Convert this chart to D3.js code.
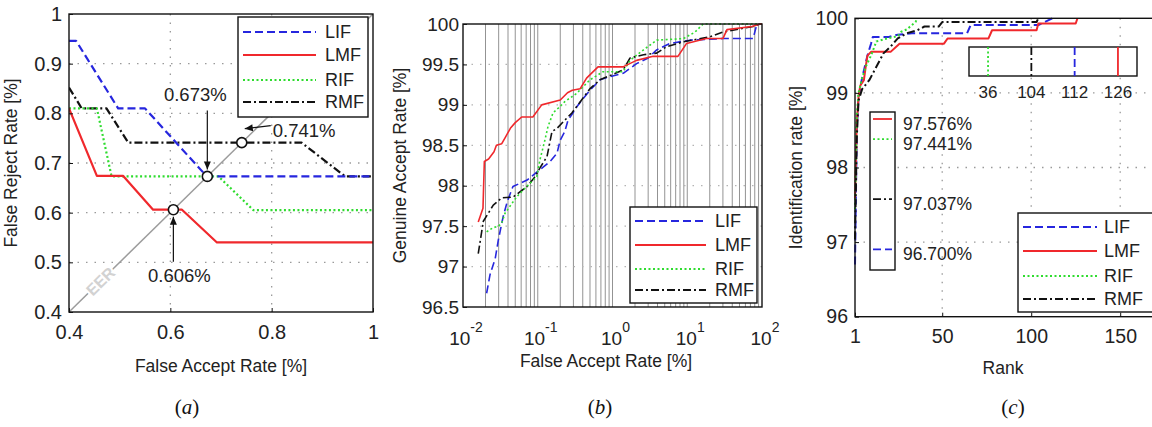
<!DOCTYPE html>
<html><head><meta charset="utf-8">
<script src="https://cdn.jsdelivr.net/npm/d3@7"></script>
<style>
body{margin:0;background:#fff}
svg{display:block;font-family:"Liberation Sans",Arial,Helvetica,sans-serif}
</style></head><body>
<svg id="fig" width="1152" height="427"></svg>
<script>
// ---------------- data ----------------
const seriesNames = ["LIF", "LMF", "RIF", "RMF"];

// (a) DET curves, [FAR %, FRR %]
const detLIF = [[0.4,0.946],[0.414,0.946],[0.497,0.81],[0.55,0.81],[0.672,0.673],[1,0.673]];
const detLMF = [[0.4,0.81],[0.455,0.674],[0.507,0.674],[0.566,0.606],[0.623,0.606],[0.692,0.54],[1,0.54]];
const detRIF = [[0.4,0.81],[0.455,0.81],[0.484,0.673],[0.695,0.673],[0.764,0.605],[1,0.605]];
const detRMF = [[0.4,0.852],[0.425,0.81],[0.474,0.81],[0.517,0.741],[0.859,0.741],[0.945,0.673],[1,0.673]];
const eerValues = [0.606, 0.673, 0.741];
const detXTicks = [0.4, 0.6, 0.8, 1];
const detYTicks = [0.4, 0.5, 0.6, 0.7, 0.8, 0.9, 1];

// (b) ROC curves, [FAR %, GAR %]
const rocLIF = [[0.0207,96.67],[0.023,96.9],[0.027,97.1],[0.0297,97.33],[0.0345,97.62],[0.039,97.8],[0.0466,97.99],[0.072,98.07],[0.098,98.17],[0.118,98.23],[0.146,98.3],[0.181,98.4],[0.199,98.56],[0.23,98.67],[0.254,98.81],[0.295,98.9],[0.335,98.98],[0.39,99.06],[0.5,99.18],[0.68,99.31],[0.93,99.35],[1.39,99.39],[2.1,99.51],[3.0,99.58],[3.9,99.68],[5.9,99.76],[10.9,99.8],[30,99.82],[76,99.82],[85,99.99],[100,100]];
const rocLMF = [[0.016,97.55],[0.0185,97.72],[0.0193,98.3],[0.022,98.33],[0.026,98.42],[0.028,98.5],[0.033,98.52],[0.037,98.6],[0.043,98.71],[0.05,98.78],[0.061,98.85],[0.086,98.85],[0.113,99.0],[0.2,99.06],[0.25,99.15],[0.29,99.18],[0.37,99.2],[0.45,99.33],[0.64,99.47],[1.38,99.47],[2.1,99.55],[3.5,99.6],[7.5,99.6],[9.8,99.76],[18,99.82],[30,99.82],[34,99.93],[73,99.97],[94,100],[100,100]];
const rocRIF = [[0.0207,97.43],[0.0252,97.48],[0.03,97.5],[0.033,97.54],[0.0365,97.66],[0.052,97.86],[0.071,97.99],[0.097,98.11],[0.107,98.32],[0.125,98.57],[0.137,98.73],[0.16,98.9],[0.199,98.98],[0.23,99.04],[0.33,99.14],[0.5,99.31],[0.75,99.41],[1.38,99.41],[1.72,99.55],[2.6,99.68],[3.9,99.8],[8.9,99.82],[12.7,99.9],[16.3,100],[100,100]];
const rocRMF = [[0.016,97.16],[0.0187,97.56],[0.0254,97.76],[0.033,97.85],[0.0466,97.86],[0.072,97.99],[0.092,98.11],[0.107,98.22],[0.133,98.36],[0.155,98.67],[0.181,98.71],[0.23,98.81],[0.286,98.9],[0.345,99.0],[0.5,99.2],[0.68,99.31],[1.38,99.43],[1.72,99.58],[2.6,99.62],[3.9,99.64],[5.3,99.72],[8.9,99.78],[20,99.84],[30,99.9],[76,99.97],[94,100],[100,100]];
const rocXTicks = [0.01, 0.1, 1, 10, 100];
const rocYTicks = [96.5, 97, 97.5, 98, 98.5, 99, 99.5, 100];

// (c) CMC curves, [rank, identification rate %]
const cmcLIF = [[1,96.7],[2,98.5],[3,98.95],[5,99.2],[8,99.5],[10,99.66],[11,99.75],[20,99.75],[25,99.78],[33,99.8],[64,99.8],[66,99.91],[104,99.91],[112,100]];
const cmcLMF = [[1,97.576],[2,98.6],[3,98.95],[4,99.1],[6,99.17],[7,99.35],[8,99.5],[10,99.55],[21,99.55],[26,99.66],[51,99.66],[53,99.73],[76,99.73],[78,99.84],[103,99.84],[104,99.93],[125,99.93],[126,100]];
const cmcRIF = [[1,97.441],[2,98.7],[3,99.0],[5,99.2],[7,99.35],[9,99.45],[10,99.5],[13,99.69],[19,99.73],[25,99.76],[27,99.82],[30,99.85],[35,99.95],[36,100]];
const cmcRMF = [[1,97.037],[2,98.4],[3,98.9],[5,99.05],[9,99.17],[13,99.35],[17,99.53],[21,99.62],[25,99.73],[30,99.8],[36,99.84],[40,99.89],[48,99.89],[50,99.95],[103,99.95],[104,100]];
const cmcXTicks = [1, 50, 100, 150];
const cmcYTicks = [96, 97, 98, 99, 100];
// rank at which each method first reaches 100 %
const fullRankNames = ["RIF", "RMF", "LIF", "LMF"];
const fullRanks = [36, 104, 112, 126];
// rank-1 identification rates
const rank1Names = ["LMF", "RIF", "RMF", "LIF"];
const rank1Rates = [97.576, 97.441, 97.037, 96.700];

// ---------------- styles ----------------
const style = {
  LIF: {color: "#2626de", dash: "8,4"},
  LMF: {color: "#f0282c", dash: null},
  RIF: {color: "#2fdc2f", dash: "2,2.5"},
  RMF: {color: "#111111", dash: "8,3,2,3"}
};
const FONT = '"Liberation Sans", Arial, Helvetica, sans-serif';
const svg = d3.select("#fig");
svg.append("rect").attr("width", 1152).attr("height", 427).attr("fill", "#fff");

function frame(g, x0, y0, x1, y1) {
  g.append("rect").attr("x", x0).attr("y", y0).attr("width", x1 - x0).attr("height", y1 - y0)
    .attr("fill", "none").attr("stroke", "#111").attr("stroke-width", 1.4);
}
function styled(sel, name, w) {
  sel.attr("fill", "none").attr("stroke", style[name].color).attr("stroke-width", w)
    .attr("stroke-dasharray", style[name].dash).attr("stroke-linejoin", "round");
  return sel;
}
function legend(g, box, rowsY, lx0, lx1, tx, fs, w) {
  g.append("rect").attr("x", box[0]).attr("y", box[1]).attr("width", box[2]).attr("height", box[3])
    .attr("fill", "#fff").attr("stroke", "#111").attr("stroke-width", 1.4);
  seriesNames.forEach((n, i) => {
    styled(g.append("line").attr("x1", lx0).attr("x2", lx1).attr("y1", rowsY[i]).attr("y2", rowsY[i]), n, w);
    g.append("text").attr("x", tx).attr("y", rowsY[i]).attr("dy", "0.36em")
      .attr("font-size", fs).attr("fill", "#222").text(n);
  });
}
function styleAxis(ax, fs) {
  ax.select(".domain").remove();
  ax.selectAll("text").attr("font-size", fs).attr("fill", "#222").attr("font-family", FONT);
  ax.selectAll(".tick line").attr("stroke", "#111");
}
function arrow(g, x1, y1, x2, y2) {
  g.append("line").attr("x1", x1).attr("y1", y1).attr("x2", x2).attr("y2", y2)
    .attr("stroke", "#111").attr("stroke-width", 1.2);
  const a = Math.atan2(y2 - y1, x2 - x1), L = 8, W = 3.5;
  const bx = x2 - L * Math.cos(a), by = y2 - L * Math.sin(a);
  g.append("path").attr("d", `M${x2},${y2}L${bx - W * Math.sin(a)},${by + W * Math.cos(a)}L${bx + W * Math.sin(a)},${by - W * Math.cos(a)}Z`)
    .attr("fill", "#111");
}

// ================= (a) DET =================
{
  const g = svg.append("g");
  const L = 69, T = 14, R = 373, B = 312;
  const x = d3.scaleLinear().domain([0.4, 1]).range([L, R]);
  const y = d3.scaleLinear().domain([0.4, 1]).range([B, T]);
  const grid = g.append("g").attr("stroke", "#9a9a9a").attr("stroke-width", 1.3).attr("stroke-dasharray", "1.5,7");
  detXTicks.slice(1, -1).forEach(v => grid.append("line").attr("x1", x(v)).attr("x2", x(v)).attr("y1", T).attr("y2", B));
  detYTicks.slice(1, -1).forEach(v => grid.append("line").attr("y1", y(v)).attr("y2", y(v)).attr("x1", L).attr("x2", R));

  g.append("clipPath").attr("id", "clipA").append("rect").attr("x", L).attr("y", T).attr("width", R - L).attr("height", B - T);
  const pl = g.append("g").attr("clip-path", "url(#clipA)");
  // equal error rate diagonal
  pl.append("line").attr("x1", x(0.4)).attr("y1", y(0.4)).attr("x2", x(1)).attr("y2", y(1))
    .attr("stroke", "#9c9c9c").attr("stroke-width", 1.5);
  const ang = Math.atan2(y(1) - y(0.4), x(1) - x(0.4)) * 180 / Math.PI;
  pl.append("text").attr("transform", `translate(${x(0.462)},${y(0.462)}) rotate(${ang})`)
    .attr("text-anchor", "middle").attr("dy", "0.36em").attr("font-size", 16).attr("font-weight", "bold")
    .attr("fill", "#d2d2d2").attr("stroke", "#fff").attr("stroke-width", 4).attr("paint-order", "stroke").text("EER");

  const line = d3.line().x(d => x(d[0])).y(d => y(d[1]));
  const det = {LIF: detLIF, LMF: detLMF, RIF: detRIF, RMF: detRMF};
  ["RMF", "RIF", "LMF", "LIF"].forEach(n => styled(pl.append("path").attr("d", line(det[n])), n, 2.2));

  frame(g, L, T, R, B);
  const ax = g.append("g").attr("transform", `translate(0,${B})`)
    .call(d3.axisBottom(x).tickValues(detXTicks).tickFormat(d3.format("~g")).tickSize(-4).tickPadding(13));
  styleAxis(ax, 20);
  const ay = g.append("g").attr("transform", `translate(${L},0)`)
    .call(d3.axisLeft(y).tickValues(detYTicks).tickFormat(d3.format("~g")).tickSize(-4).tickPadding(7));
  styleAxis(ay, 20);

  legend(g, [238, 17, 130, 100], [32, 55, 80, 102], 243, 316, 325, 18, 2.2);

  // EER markers and their call-outs
  const fmt = v => d3.format(".3f")(v) + "%";
  const ann = g.append("g").attr("font-size", 18.5).attr("fill", "#222");
  const [e1, e2, e3] = eerValues;
  // 0.606
  ann.append("text").attr("x", x(e1) + 6).attr("y", y(e1) + 72).attr("text-anchor", "middle").text(fmt(e1));
  arrow(ann, x(e1), y(e1) + 52, x(e1), y(e1) + 7);
  // 0.673
  ann.append("text").attr("x", x(e2) - 12).attr("y", y(e2) - 75).attr("text-anchor", "middle").text(fmt(e2));
  arrow(ann, x(e2), y(e2) - 66, x(e2), y(e2) - 7);
  // 0.741
  ann.append("text").attr("x", x(e3) + 31).attr("y", y(e3) - 6).text(fmt(e3));
  arrow(ann, x(e3) + 29, y(e3) - 17, x(e3) + 3, y(e3) - 14);
  eerValues.forEach(v => g.append("circle").attr("cx", x(v)).attr("cy", y(v)).attr("r", 5)
    .attr("fill", "#fff").attr("stroke", "#111").attr("stroke-width", 1.6));

  g.append("text").attr("x", (L + R) / 2).attr("y", 372).attr("text-anchor", "middle")
    .attr("font-size", 17.5).attr("fill", "#222").text("False Accept Rate [%]");
  g.append("text").attr("transform", `translate(17,${(T + B) / 2}) rotate(-90)`).attr("text-anchor", "middle")
    .attr("font-size", 17.5).attr("fill", "#222").text("False Reject Rate [%]");
}

// ================= (b) ROC =================
{
  const g = svg.append("g");
  const L = 463, T = 24, R = 762, B = 307;
  const x = d3.scaleLog().domain([0.01, 100]).range([L, R]);
  const y = d3.scaleLinear().domain([96.5, 100]).range([B, T]);
  const minor = [];
  for (let k = -2; k < 2; k++) for (let m = 1; m <= 9; m++) minor.push(m * Math.pow(10, k));
  const gv = g.append("g").attr("stroke", "#939393").attr("stroke-width", 1);
  minor.slice(1).forEach(v => gv.append("line").attr("x1", x(v)).attr("x2", x(v)).attr("y1", T).attr("y2", B));
  const gh = g.append("g").attr("stroke", "#b4b4b4").attr("stroke-width", 1.3).attr("stroke-dasharray", "1.5,7");
  rocYTicks.slice(1, -1).forEach(v => gh.append("line").attr("y1", y(v)).attr("y2", y(v)).attr("x1", L).attr("x2", R));

  g.append("clipPath").attr("id", "clipB").append("rect").attr("x", L).attr("y", T - 2).attr("width", R - L).attr("height", B - T + 2);
  const pl = g.append("g").attr("clip-path", "url(#clipB)");
  const line = d3.line().x(d => x(d[0])).y(d => y(d[1]));
  const roc = {LIF: rocLIF, LMF: rocLMF, RIF: rocRIF, RMF: rocRMF};
  ["LIF", "RMF", "RIF", "LMF"].forEach(n => styled(pl.append("path").attr("d", line(roc[n])), n, 1.6));

  frame(g, L, T, R, B);
  const ay = g.append("g").attr("transform", `translate(${L},0)`)
    .call(d3.axisLeft(y).tickValues(rocYTicks).tickFormat(d3.format("~g")).tickSize(-4).tickPadding(4));
  styleAxis(ay, 19);
  // decade labels 10^k
  const ax = g.append("g").attr("fill", "#222");
  rocXTicks.forEach(v => {
    const t = ax.append("text").attr("x", x(v) + 3).attr("y", 345).attr("text-anchor", "middle").attr("font-size", 19);
    t.append("tspan").text("10");
    t.append("tspan").attr("dy", -13).attr("font-size", 14).text(String(Math.round(Math.log10(v))));
  });

  legend(g, [630, 207, 127, 96], [221, 245, 269, 290], 635, 706, 715, 18, 1.8);

  g.append("text").attr("x", 606).attr("y", 367).attr("text-anchor", "middle")
    .attr("font-size", 17.5).attr("fill", "#222").text("False Accept Rate [%]");
  g.append("text").attr("transform", `translate(406,${(T + B) / 2}) rotate(-90)`).attr("text-anchor", "middle")
    .attr("font-size", 17.5).attr("fill", "#222").text("Genuine Accept Rate [%]");
}

// ================= (c) CMC =================
{
  const g = svg.append("g");
  const L = 855, T = 18.3, R = 1155.8, B = 316.7;
  const x = d3.scaleLinear().domain([1, 170]).range([L, R]);
  const y = d3.scaleLinear().domain([96, 100]).range([B, T]);
  const grid = g.append("g").attr("stroke", "#9a9a9a").attr("stroke-width", 1.3).attr("stroke-dasharray", "1.5,7");
  cmcXTicks.slice(1).forEach(v => grid.append("line").attr("x1", x(v)).attr("x2", x(v)).attr("y1", T).attr("y2", B));
  cmcYTicks.slice(1, -1).forEach(v => grid.append("line").attr("y1", y(v)).attr("y2", y(v)).attr("x1", L).attr("x2", R));

  const line = d3.line().x(d => x(d[0])).y(d => y(d[1]));
  const cmc = {LIF: cmcLIF, LMF: cmcLMF, RIF: cmcRIF, RMF: cmcRMF};
  ["LIF", "LMF", "RIF", "RMF"].forEach(n => styled(g.append("path").attr("d", line(cmc[n])), n, 2));

  frame(g, L, T, R, B);
  const ax = g.append("g").attr("transform", `translate(0,${B})`)
    .call(d3.axisBottom(x).tickValues(cmcXTicks).tickFormat(d3.format("d")).tickSize(-4).tickPadding(12));
  styleAxis(ax, 19.5);
  const ay = g.append("g").attr("transform", `translate(${L},0)`)
    .call(d3.axisLeft(y).tickValues(cmcYTicks).tickFormat(d3.format("d")).tickSize(-4).tickPadding(7));
  styleAxis(ay, 19.5);

  // inset: rank at which each method reaches 100 %
  const bx0 = 969, bx1 = 1137, by0 = 47, by1 = 76;
  g.append("rect").attr("x", bx0).attr("y", by0).attr("width", bx1 - bx0).attr("height", by1 - by0)
    .attr("fill", "#fff").attr("stroke", "#111").attr("stroke-width", 1.4);
  const px = d3.scalePoint().domain(fullRanks).range([bx0, bx1]).padding(0.44);
  fullRanks.forEach((r, i) => {
    styled(g.append("line").attr("x1", px(r)).attr("x2", px(r)).attr("y1", by0).attr("y2", by1), fullRankNames[i], 1.8);
    g.append("text").attr("x", px(r)).attr("y", 98).attr("text-anchor", "middle")
      .attr("font-size", 17).attr("fill", "#222").text(r);
  });

  // inset: rank-1 identification rates
  const rx0 = 870, rx1 = 895;
  g.append("rect").attr("x", rx0).attr("y", 112).attr("width", rx1 - rx0).attr("height", 158)
    .attr("fill", "#fff").attr("stroke", "#111").attr("stroke-width", 1.4);
  const ry = d3.scaleLinear().domain([96.7, 97.576]).range([249.3, 119]);
  rank1Rates.forEach((v, i) => {
    styled(g.append("line").attr("x1", rx0 + 3).attr("x2", rx1 - 3).attr("y1", ry(v)).attr("y2", ry(v)), rank1Names[i], 1.8);
    g.append("text").attr("x", 903).attr("y", ry(v) + 11).attr("font-size", 17.5).attr("fill", "#222")
      .text(d3.format(".3f")(v) + "%");
  });

  legend(g, [1018, 213, 140, 99], [227, 251, 276, 299], 1023, 1097, 1104, 18, 2);

  g.append("text").attr("x", 1003).attr("y", 374).attr("text-anchor", "middle")
    .attr("font-size", 17.5).attr("fill", "#222").text("Rank");
  g.append("text").attr("transform", `translate(802,${(T + B) / 2}) rotate(-90)`).attr("text-anchor", "middle")
    .attr("font-size", 17.5).attr("fill", "#222").text("Identification rate [%]");
}

// ---------------- sub-figure captions ----------------
const captionLetters = ["a", "b", "c"];
const captionX = [187, 600, 1013];
captionLetters.forEach((c, i) => {
  const t = svg.append("text").attr("x", captionX[i]).attr("y", 414).attr("text-anchor", "middle")
    .attr("font-family", '"Liberation Serif", "Times New Roman", serif').attr("font-size", 21).attr("fill", "#111");
  t.append("tspan").text("(");
  t.append("tspan").attr("font-style", "italic").text(c);
  t.append("tspan").text(")");
});
</script>
</body></html>
